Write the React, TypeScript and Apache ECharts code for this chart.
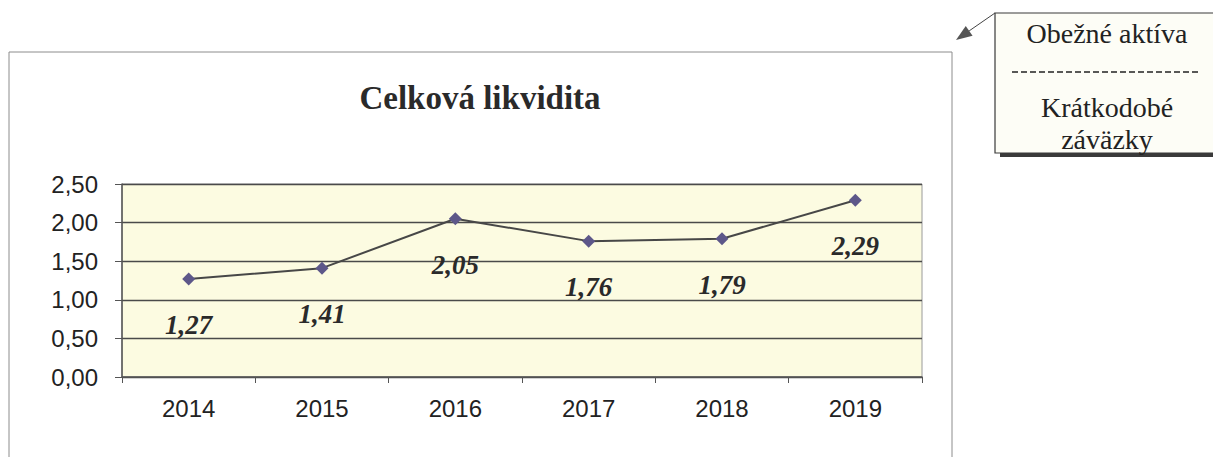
import React, { useEffect, useRef } from "react";
import * as echarts from "echarts";

const years = ["2014", "2015", "2016", "2017", "2018", "2019"];
const liquidity = [1.27, 1.41, 2.05, 1.76, 1.79, 2.29];
const chartTitle = "Celková likvidita";
const boxTop = "Obežné aktíva";
const boxBottom1 = "Krátkodobé";
const boxBottom2 = "záväzky";

const fmt = (v: number) => v.toFixed(2).replace(".", ",");

export default function App() {
  const ref = useRef<HTMLDivElement>(null);
  useEffect(() => {
    if (!ref.current) return;
    const chart = echarts.init(ref.current, null, { renderer: "svg" });
    const serif = "'Liberation Serif', 'Times New Roman', serif";
    const sans = "'Liberation Sans', Arial, sans-serif";
    const tip = [956, 40];
    const corner = [995, 13];
    const dx = corner[0] - tip[0];
    const dy = corner[1] - tip[1];
    const len = Math.sqrt(dx * dx + dy * dy);
    const ux = dx / len, uy = dy / len;
    const bx = tip[0] + ux * 16, by = tip[1] + uy * 16;
    const px = -uy * 6, py = ux * 6;
    chart.setOption({
      animation: false,
      backgroundColor: "#ffffff",
      title: {
        text: chartTitle,
        left: 475,
        top: 76,
        textAlign: "center",
        textStyle: {
          fontFamily: serif,
          fontWeight: "bold",
          fontSize: 33,
          color: "#2a2a2a",
        },
      },
      grid: {
        left: 122,
        right: 291,
        top: 184,
        bottom: 80,
        show: true,
        backgroundColor: "#fcfbe1",
        borderColor: "#9a9a9a",
        borderWidth: 1,
      },
      xAxis: {
        type: "category",
        data: years,
        boundaryGap: true,
        axisLine: { lineStyle: { color: "#555", width: 1.5 } },
        axisTick: { show: true, inside: false, length: 6, lineStyle: { color: "#555" } },
        axisLabel: { fontFamily: sans, fontSize: 24, color: "#222", margin: 19 },
        splitLine: { show: false },
      },
      yAxis: {
        type: "value",
        min: 0,
        max: 2.5,
        interval: 0.5,
        axisLine: { show: true, lineStyle: { color: "#555", width: 1.5 } },
        axisTick: { show: true, inside: false, length: 7, lineStyle: { color: "#555" } },
        axisLabel: {
          fontFamily: sans,
          fontSize: 24,
          color: "#222",
          margin: 24,
          formatter: (v: number) => fmt(v),
        },
        splitLine: { show: true, lineStyle: { color: "#4a4a4a", width: 1.3 } },
      },
      series: [
        {
          type: "line",
          data: liquidity,
          symbol: "diamond",
          symbolSize: 13,
          itemStyle: { color: "#5d5789" },
          lineStyle: { color: "#474747", width: 2 },
          label: {
            show: true,
            position: "bottom",
            distance: 26,
            fontFamily: serif,
            fontStyle: "italic",
            fontWeight: "bold",
            fontSize: 27,
            color: "#2a2a2a",
            formatter: (p: any) => fmt(p.value),
          },
        },
      ],
      graphic: [
        {
          type: "rect",
          shape: { x: 9, y: 52, width: 943, height: 430 },
          style: { fill: "none", stroke: "#8c8c8c", lineWidth: 1 },
          z: -10,
          silent: true,
        },
        {
          type: "rect",
          shape: { x: 1000, y: 18, width: 230, height: 139 },
          style: { fill: "#3a3a3a" },
          z: 10,
        },
        {
          type: "rect",
          shape: { x: 995, y: 13, width: 230, height: 140 },
          style: { fill: "#fdfdf6", stroke: "#3a3a3a", lineWidth: 1.2 },
          z: 11,
        },
        {
          type: "text",
          x: 1107,
          y: 33,
          style: {
            text: boxTop,
            font: `28px ${serif}`,
            fill: "#222",
            textAlign: "center",
            textVerticalAlign: "middle",
          },
          z: 12,
        },
        {
          type: "line",
          shape: { x1: 1012, y1: 72, x2: 1200, y2: 72 },
          style: { stroke: "#222", lineWidth: 1.5, lineDash: [6, 3] },
          z: 12,
        },
        {
          type: "text",
          x: 1107,
          y: 107,
          style: {
            text: boxBottom1,
            font: `28px ${serif}`,
            fill: "#222",
            textAlign: "center",
            textVerticalAlign: "middle",
          },
          z: 12,
        },
        {
          type: "text",
          x: 1107,
          y: 139,
          style: {
            text: boxBottom2,
            font: `28px ${serif}`,
            fill: "#222",
            textAlign: "center",
            textVerticalAlign: "middle",
          },
          z: 12,
        },
        {
          type: "line",
          shape: { x1: corner[0], y1: corner[1], x2: bx, y2: by },
          style: { stroke: "#444", lineWidth: 1 },
          z: 12,
        },
        {
          type: "polygon",
          shape: {
            points: [
              [tip[0], tip[1]],
              [bx + px, by + py],
              [bx - px, by - py],
            ],
          },
          style: { fill: "#555" },
          z: 12,
        },
      ],
    });
    return () => chart.dispose();
  }, []);
  return (
    <div
      ref={ref}
      style={{ position: "fixed", left: 0, top: 0, width: 1213, height: 457, background: "#fff" }}
    />
  );
}
